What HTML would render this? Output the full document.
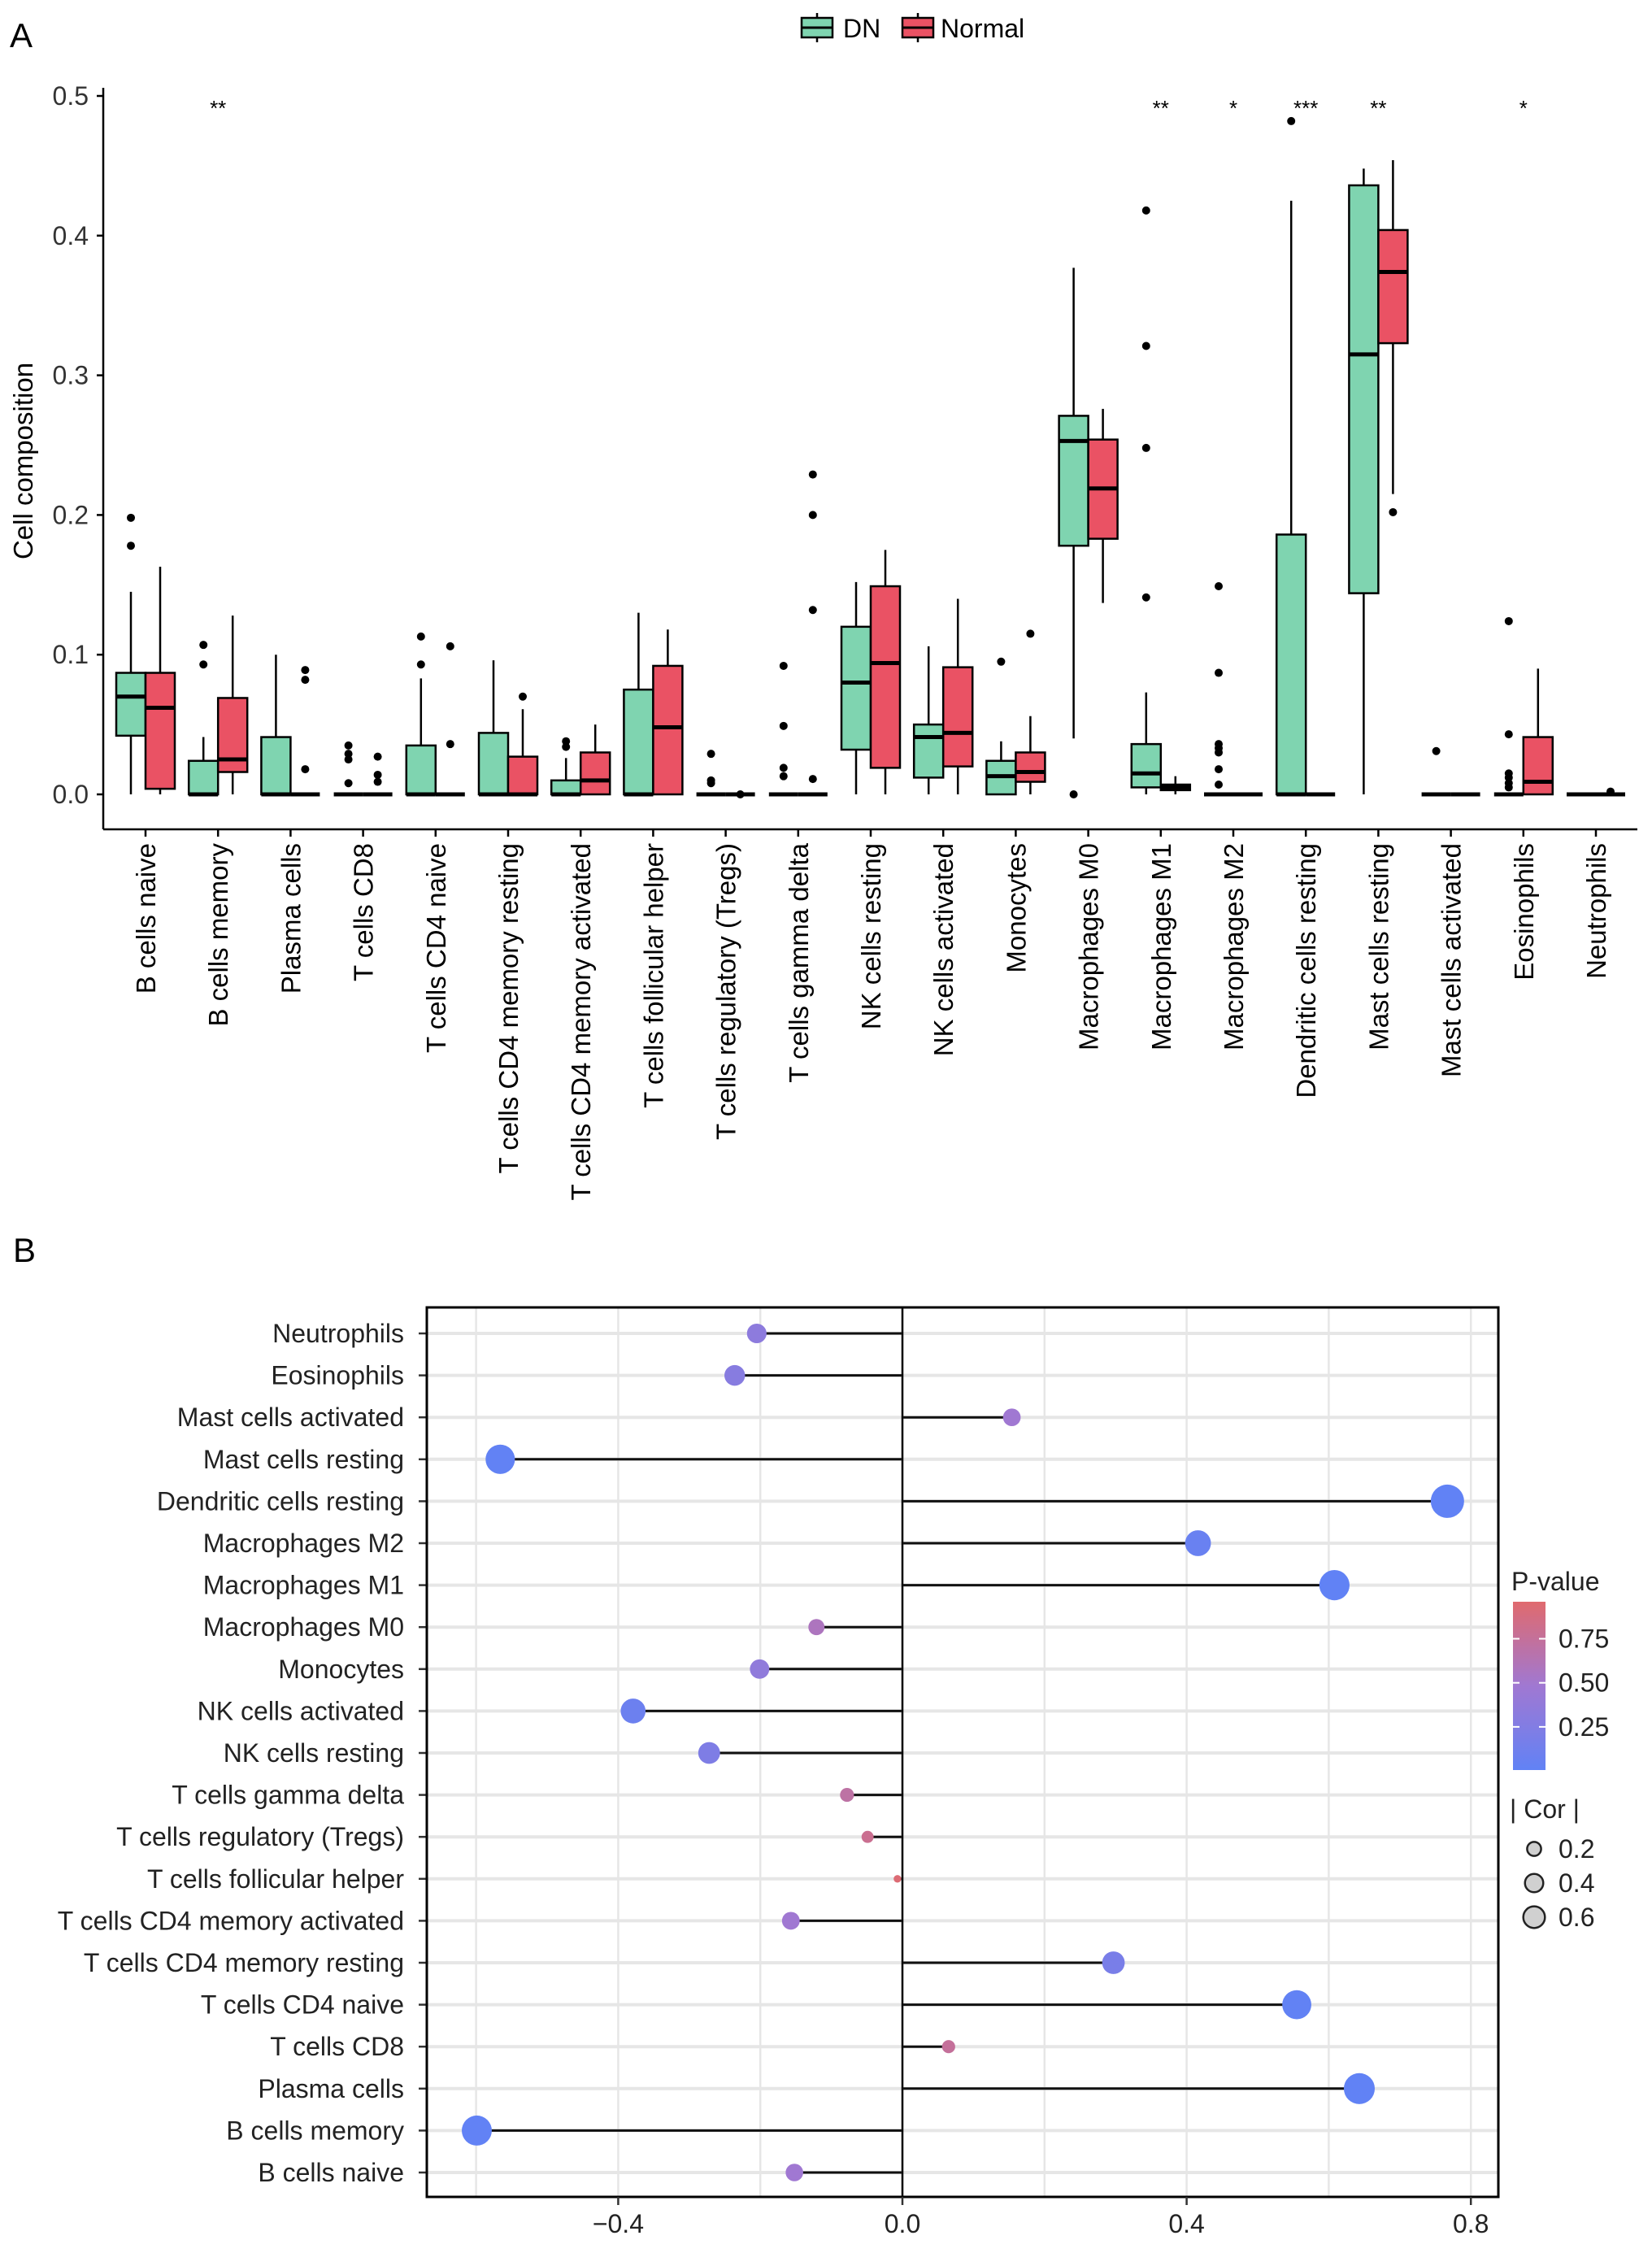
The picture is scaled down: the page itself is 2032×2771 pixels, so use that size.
<!DOCTYPE html>
<html><head><meta charset="utf-8">
<style>
html,body{margin:0;padding:0;background:#fff;}
svg{display:block;font-family:"Liberation Sans",Arial,sans-serif;}
</style></head>
<body>
<svg id="chart" width="2032" height="2771" viewBox="0 0 2032 2771" xmlns="http://www.w3.org/2000/svg">
<rect x="0" y="0" width="2032" height="2771" fill="#fff"/>
<text x="12" y="58" font-size="42" fill="#000">A</text>
<text x="16" y="1552" font-size="42" fill="#000">B</text>
<g id="gA"></g>
<g id="gB"></g>
</svg>
<script>
// ---------- Panel A data ----------
const catsA = ["B cells naive","B cells memory","Plasma cells","T cells CD8","T cells CD4 naive","T cells CD4 memory resting","T cells CD4 memory activated","T cells follicular helper","T cells regulatory (Tregs)","T cells gamma delta","NK cells resting","NK cells activated","Monocytes","Macrophages M0","Macrophages M1","Macrophages M2","Dendritic cells resting","Mast cells resting","Mast cells activated","Eosinophils","Neutrophils"];
// [lowWhisker, q1, median, q3, highWhisker]
const dnStats = [[0,0.042,0.07,0.087,0.145],[0,0,0,0.024,0.041],[0,0,0,0.041,0.1],[0,0,0,0,0],[0,0,0,0.035,0.083],[0,0,0,0.044,0.096],[0,0,0,0.01,0.026],[0,0,0,0.075,0.13],[0,0,0,0,0],[0,0,0,0,0],[0,0.032,0.08,0.12,0.152],[0,0.012,0.041,0.05,0.106],[0,0,0.013,0.024,0.038],[0.04,0.178,0.253,0.271,0.377],[0,0.005,0.015,0.036,0.073],[0,0,0,0,0],[0,0,0,0.186,0.425],[0,0.144,0.315,0.436,0.448],[0,0,0,0,0],[0,0,0,0,0],[0,0,0,0,0]];
const normalStats = [[0,0.004,0.062,0.087,0.163],[0,0.016,0.025,0.069,0.128],[0,0,0,0,0],[0,0,0,0,0],[0,0,0,0,0],[0,0,0,0.027,0.061],[0,0,0.01,0.03,0.05],[0,0,0.048,0.092,0.118],[0,0,0,0,0],[0,0,0,0,0],[0,0.019,0.094,0.149,0.175],[0,0.02,0.044,0.091,0.14],[0,0.009,0.016,0.03,0.056],[0.137,0.183,0.219,0.254,0.276],[0,0.003,0.005,0.007,0.013],[0,0,0,0,0],[0,0,0,0,0],[0.215,0.323,0.374,0.404,0.454],[0,0,0,0,0],[0,0,0.009,0.041,0.09],[0,0,0,0,0]];
const dnOutliers = [[0.178,0.198],[0.093,0.107],[],[0.008,0.025,0.029,0.035],[0.093,0.113],[],[0.034,0.038],[],[0.008,0.01,0.029],[0.013,0.019,0.049,0.092],[],[],[0.095],[0.0],[0.141,0.248,0.321,0.418],[0.007,0.018,0.03,0.033,0.036,0.087,0.149],[0.482],[],[0.031],[0.005,0.008,0.012,0.015,0.043,0.124],[]];
const normalOutliers = [[],[],[0.018,0.082,0.089],[0.009,0.014,0.027],[0.036,0.106],[0.07],[],[],[0],[0.011,0.132,0.2,0.229],[],[],[0.115],[],[],[],[],[0.202],[],[],[0.002]];
const sigLabels = ["","**","","","","","","","","","","","","","**","*","***","**","","*",""];
const yTicksA = [0,0.1,0.2,0.3,0.4,0.5];

// ---------- Panel B data ----------
const catsB = ["Neutrophils","Eosinophils","Mast cells activated","Mast cells resting","Dendritic cells resting","Macrophages M2","Macrophages M1","Macrophages M0","Monocytes","NK cells activated","NK cells resting","T cells gamma delta","T cells regulatory (Tregs)","T cells follicular helper","T cells CD4 memory activated","T cells CD4 memory resting","T cells CD4 naive","T cells CD8","Plasma cells","B cells memory","B cells naive"];
const corVals = [-0.205,-0.236,0.154,-0.566,0.767,0.416,0.608,-0.121,-0.201,-0.379,-0.272,-0.078,-0.049,-0.007,-0.157,0.297,0.555,0.065,0.643,-0.599,-0.152];
const pVals = [0.35,0.3,0.5,0.01,0.0001,0.06,0.003,0.6,0.37,0.09,0.23,0.73,0.83,0.97,0.5,0.19,0.01,0.78,0.002,0.004,0.5];
const xTicksB = [-0.4,0,0.4,0.8];
const xGridB = [-0.6,-0.4,-0.2,0.2,0.4,0.6,0.8];
const legendCor = [0.2,0.4,0.6];
const legendP = [0.25,0.5,0.75];

const NS="http://www.w3.org/2000/svg";
function mk(tag, attrs, parent, txt){
  const e=document.createElementNS(NS,tag);
  for(const k in attrs) e.setAttribute(k,attrs[k]);
  if(txt!==undefined) e.textContent=txt;
  parent.appendChild(e); return e;
}

// ---------- Panel A ----------
const gA=document.getElementById('gA');
const A={x0:127,x1:2014,y0val:977,pxPer:1718,axisY:1020,first:179,step:89.2,bw:36};
const ya=v=>A.y0val - v*A.pxPer;
const xa=i=>A.first + i*A.step;
// legend
[[986,"#7fd4b0","DN",1037,'legend-dn'],[1110,"#ea5264","Normal",1157,'legend-normal']].forEach(L=>{
  const g=mk('g',{},gA);
  
  
  mk('line',{x1:L[0]+19,x2:L[0]+19,y1:16,y2:52,stroke:'#000','stroke-width':2.5},g);
  mk('rect',{x:L[0],y:22,width:38,height:24,fill:L[1],stroke:'#000','stroke-width':2.5},g);
  mk('line',{x1:L[0],x2:L[0]+38,y1:34,y2:34,stroke:'#000','stroke-width':3},g);
  mk('text',{x:L[3],y:46,'font-size':32,fill:'#000'},g,L[2]);
});
// axes
const ax=mk('line',{x1:A.x0,x2:A.x0,y1:108,y2:A.axisY,stroke:'#000','stroke-width':2.5},gA);


const axx=mk('line',{x1:A.x0,x2:A.x1,y1:A.axisY,y2:A.axisY,stroke:'#000','stroke-width':2.5},gA);


yTicksA.forEach(t=>{
  mk('line',{x1:A.x0-8,x2:A.x0,y1:ya(t),y2:ya(t),stroke:'#000','stroke-width':2.5},gA);
  const tx=mk('text',{x:A.x0-18,y:ya(t)+11,'font-size':32,'text-anchor':'end',fill:'#333'},gA,t.toFixed(1));
  
  
});
const yt=mk('text',{x:0,y:0,'font-size':33,'text-anchor':'middle',fill:'#000',transform:'translate(40,567) rotate(-90)'},gA,'Cell composition');


function drawBox(cx,s,col,outs,name){
  const g=mk('g',{},gA);
  
  
  const l=cx-A.bw/2;
  mk('line',{x1:cx,x2:cx,y1:ya(s[0]),y2:ya(s[4]),stroke:'#000','stroke-width':2.5},g);
  if(s[3]>s[1]) mk('rect',{x:l,y:ya(s[3]),width:A.bw,height:ya(s[1])-ya(s[3]),fill:col,stroke:'#000','stroke-width':2.5},g);
  mk('line',{x1:l,x2:l+A.bw,y1:ya(s[2]),y2:ya(s[2]),stroke:'#000','stroke-width':5},g);
  outs.forEach(o=>{
    const c=mk('circle',{cx:cx,cy:ya(o),r:5,fill:'#000'},g);
    
    
  });
}
catsA.forEach((c,i)=>{
  const x=xa(i);
  mk('line',{x1:x,x2:x,y1:A.axisY,y2:A.axisY+9,stroke:'#000','stroke-width':2.5},gA);
  drawBox(x-A.bw/2,dnStats[i],'#7fd4b0',dnOutliers[i],'box-dn');
  drawBox(x+A.bw/2,normalStats[i],'#ea5264',normalOutliers[i],'box-normal');
  const t=mk('text',{x:0,y:0,'font-size':33,'text-anchor':'end',fill:'#000',transform:`translate(${x+12},1037) rotate(-90)`},gA,c);
  
  
  if(sigLabels[i]){
    const s=mk('text',{x:x,y:142,'font-size':26,'text-anchor':'middle',fill:'#000'},gA,sigLabels[i]);
    
    
  }
});

// ---------- Panel B ----------
const gB=document.getElementById('gB');
const B={l:525,r:1843,t:1608,b:2702,zero:1110,pxPer:874,row0:1640,step:51.6};
const xb=v=>B.zero+v*B.pxPer;
const yb=i=>B.row0+i*B.step;
function pColor(p){
  const a=[97,130,245], m=[160,120,210], b=[224,106,110];
  let c;
  if(p<0.5){const t=p/0.5;c=a.map((v,k)=>Math.round(v+(m[k]-v)*t));}
  else{const t=(p-0.5)/0.5;c=m.map((v,k)=>Math.round(v+(b[k]-v)*t));}
  return `rgb(${c[0]},${c[1]},${c[2]})`;
}
const rad=c=>3+20*Math.sqrt(Math.abs(c));
xGridB.forEach(v=>{
  const gl=mk('line',{x1:xb(v),x2:xb(v),y1:B.t,y2:B.b,stroke:'#e6e6e6','stroke-width':2.5},gB);
  
  
});
catsB.forEach((c,i)=>{
  mk('line',{x1:B.l,x2:B.r,y1:yb(i),y2:yb(i),stroke:'#e6e6e6','stroke-width':4},gB);
});
mk('line',{x1:B.zero,x2:B.zero,y1:B.t,y2:B.b,stroke:'#000','stroke-width':2.5},gB);
catsB.forEach((c,i)=>{
  const y=yb(i);
  mk('line',{x1:B.l-10,x2:B.l,y1:y,y2:y,stroke:'#333','stroke-width':2.5},gB);
  const t=mk('text',{x:B.l-28,y:y+11,'font-size':32,'text-anchor':'end',fill:'#222'},gB,c);
  
  
  const st=mk('line',{x1:B.zero,x2:xb(corVals[i]),y1:y,y2:y,stroke:'#111','stroke-width':3},gB);
  
  
  const d=mk('circle',{cx:xb(corVals[i]),cy:y,r:rad(corVals[i]),fill:pColor(pVals[i])},gB);
  
  
});
const frame=mk('rect',{x:B.l,y:B.t,width:B.r-B.l,height:B.b-B.t,fill:'none',stroke:'#000','stroke-width':3},gB);


xTicksB.forEach(v=>{
  mk('line',{x1:xb(v),x2:xb(v),y1:B.b,y2:B.b+10,stroke:'#333','stroke-width':2.5},gB);
  const t=mk('text',{x:xb(v),y:B.b+44,'font-size':32,'text-anchor':'middle',fill:'#222'},gB,v===0?'0.0':(v<0?'\u2212':'')+Math.abs(v).toFixed(1));
  
  
});
// legend P-value
const pl=mk('text',{x:1859,y:1956,'font-size':32,fill:'#222'},gB,'P-value');


const defs=mk('defs',{},gB);
const lg=mk('linearGradient',{id:'pg',x1:0,y1:1,x2:0,y2:0},defs);
[0,0.25,0.5,0.75,1].forEach(s=>mk('stop',{offset:s,'stop-color':pColor(s)},lg));
const cb=mk('rect',{x:1861,y:1970,width:40,height:207,fill:'url(#pg)'},gB);


const pTop=1970, pBot=2177, pMax=0.96, pMin=0.005;
const yP=p=>pBot-(p-pMin)/(pMax-pMin)*(pBot-pTop);
legendP.forEach(p=>{
  mk('line',{x1:1861,x2:1869,y1:yP(p),y2:yP(p),stroke:'#fff','stroke-width':2},gB);
  mk('line',{x1:1893,x2:1901,y1:yP(p),y2:yP(p),stroke:'#fff','stroke-width':2},gB);
  const t=mk('text',{x:1917,y:yP(p)+11,'font-size':32,fill:'#222'},gB,p.toFixed(2));
  
  
});
const cl=mk('text',{x:1857,y:2236,'font-size':32,fill:'#222'},gB,'| Cor |');


legendCor.forEach((c,i)=>{
  const y=2274+i*42;
  const e=mk('circle',{cx:1887,cy:y,r:rad(c)*0.72,fill:'#d0d0d0',stroke:'#222','stroke-width':2.5},gB);
  
  
  const t=mk('text',{x:1917,y:y+11,'font-size':32,fill:'#222'},gB,c.toFixed(1));
  
  
});
</script>
</body></html>
